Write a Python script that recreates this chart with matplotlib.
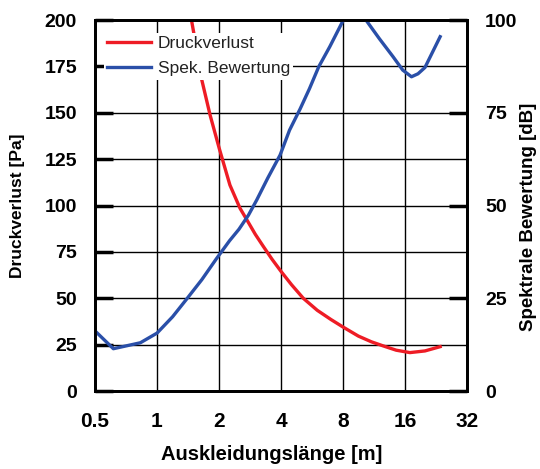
import matplotlib
matplotlib.use("Agg")
import matplotlib.pyplot as plt
from matplotlib.ticker import FixedLocator, FixedFormatter, NullLocator

plt.rcParams['font.family'] = ['Liberation Sans', 'DejaVu Sans']

# Data
druck_x = [1.40, 1.47, 1.56, 1.65, 1.81, 2.005, 2.26, 2.53, 2.72, 3.0, 3.28, 3.62, 4.0, 4.5, 5.13, 6.0, 7.0, 8.0, 9.5, 11.0, 12.55, 14.5, 16.9, 20.0, 23.7]
druck_y = [222, 200, 184, 167.7, 148.8, 130.8, 111, 98.5, 92.6, 84.5, 78.0, 71.0, 64.5, 57.3, 50.0, 43.5, 38.5, 34.5, 29.6, 26.5, 24.3, 22.0, 20.7, 21.6, 23.9]

spek_x = [0.5, 0.614, 0.83, 1.0, 1.19, 1.394, 1.65, 1.94, 2.25, 2.5, 2.78, 3.05, 3.45, 3.96, 4.4, 4.95, 5.5, 6.1, 6.9, 8.0, 9.2, 10.4, 12.0, 14.0, 15.6, 17.2, 18.5, 20.0, 23.7]
spek_y = [16.2, 11.4, 13.0, 15.6, 20.0, 24.8, 30.0, 35.6, 40.5, 43.6, 47.4, 51.5, 57.4, 63.6, 70.3, 76.0, 81.5, 87.4, 92.8, 99.8, 101.5, 99.8, 95.0, 90.1, 86.5, 84.7, 85.5, 87.2, 95.5]

x_ticks = [0.5, 1, 2, 4, 8, 16, 32]
x_labels = ["0.5", "1", "2", "4", "8", "16", "32"]
left_ticks = [0, 25, 50, 75, 100, 125, 150, 175, 200]
right_ticks = [0, 25, 50, 75, 100]

fig = plt.figure(figsize=(5.4, 4.69), dpi=100)
ax = fig.add_axes([95/540, 1 - 391/469, 372/540, 371/469])
ax2 = ax.twinx()

ax.set_xscale('log', base=2)
ax.set_xlim(0.5, 32)
ax.set_ylim(0, 200)
ax2.set_ylim(0, 100)

ax.xaxis.set_major_locator(FixedLocator(x_ticks))
ax.xaxis.set_major_formatter(FixedFormatter(x_labels))
ax.xaxis.set_minor_locator(NullLocator())
ax.yaxis.set_major_locator(FixedLocator(left_ticks))
ax2.yaxis.set_major_locator(FixedLocator(right_ticks))

ax.grid(True, color='black', linewidth=1.0)
ax.set_axisbelow(True)

l1, = ax.plot(druck_x, druck_y, color='#ee1c25', linewidth=2.4, label='Druckverlust')
l2, = ax2.plot(spek_x, spek_y, color='#2a4fa8', linewidth=2.4, label='Spek. Bewertung')

for a in (ax, ax2):
    for s in a.spines.values():
        s.set_linewidth(2)
    a.tick_params(axis='y', which='major', direction='in', length=13, width=2.5,
                  labelsize=14, pad=13)
    for lab in a.get_yticklabels():
        lab.set_fontweight('bold')

ax.tick_params(axis='x', direction='in', length=0, pad=15, labelsize=15)
for lab in ax.get_xticklabels():
    lab.set_fontweight('bold')

ax.set_xlabel('Auskleidungslänge [m]', fontsize=14.5, fontweight='bold', labelpad=12)
ax.xaxis.set_label_coords(0.476, -0.145)
ax.set_ylabel('Druckverlust [Pa]', fontsize=12.5, fontweight='bold')
ax.yaxis.set_label_coords(-0.188, 0.5)
ax2.set_ylabel('Spektrale Bewertung [dB]', fontsize=13.5, fontweight='bold')
ax2.yaxis.set_label_coords(1.1425, 0.469)

leg = ax2.legend(handles=[l1, l2], loc='upper left', frameon=True, fontsize=12.5,
                 handlelength=2.5, borderpad=0.2, labelspacing=0.55,
                 bbox_to_anchor=(0.0, 0.989), borderaxespad=0.5, handletextpad=0.4)
leg.get_frame().set_edgecolor('none')
leg.get_frame().set_facecolor('white')
leg.get_frame().set_alpha(1)
for t in leg.get_texts():
    t.set_color('#222222')

fig.savefig('out.png', dpi=100)
